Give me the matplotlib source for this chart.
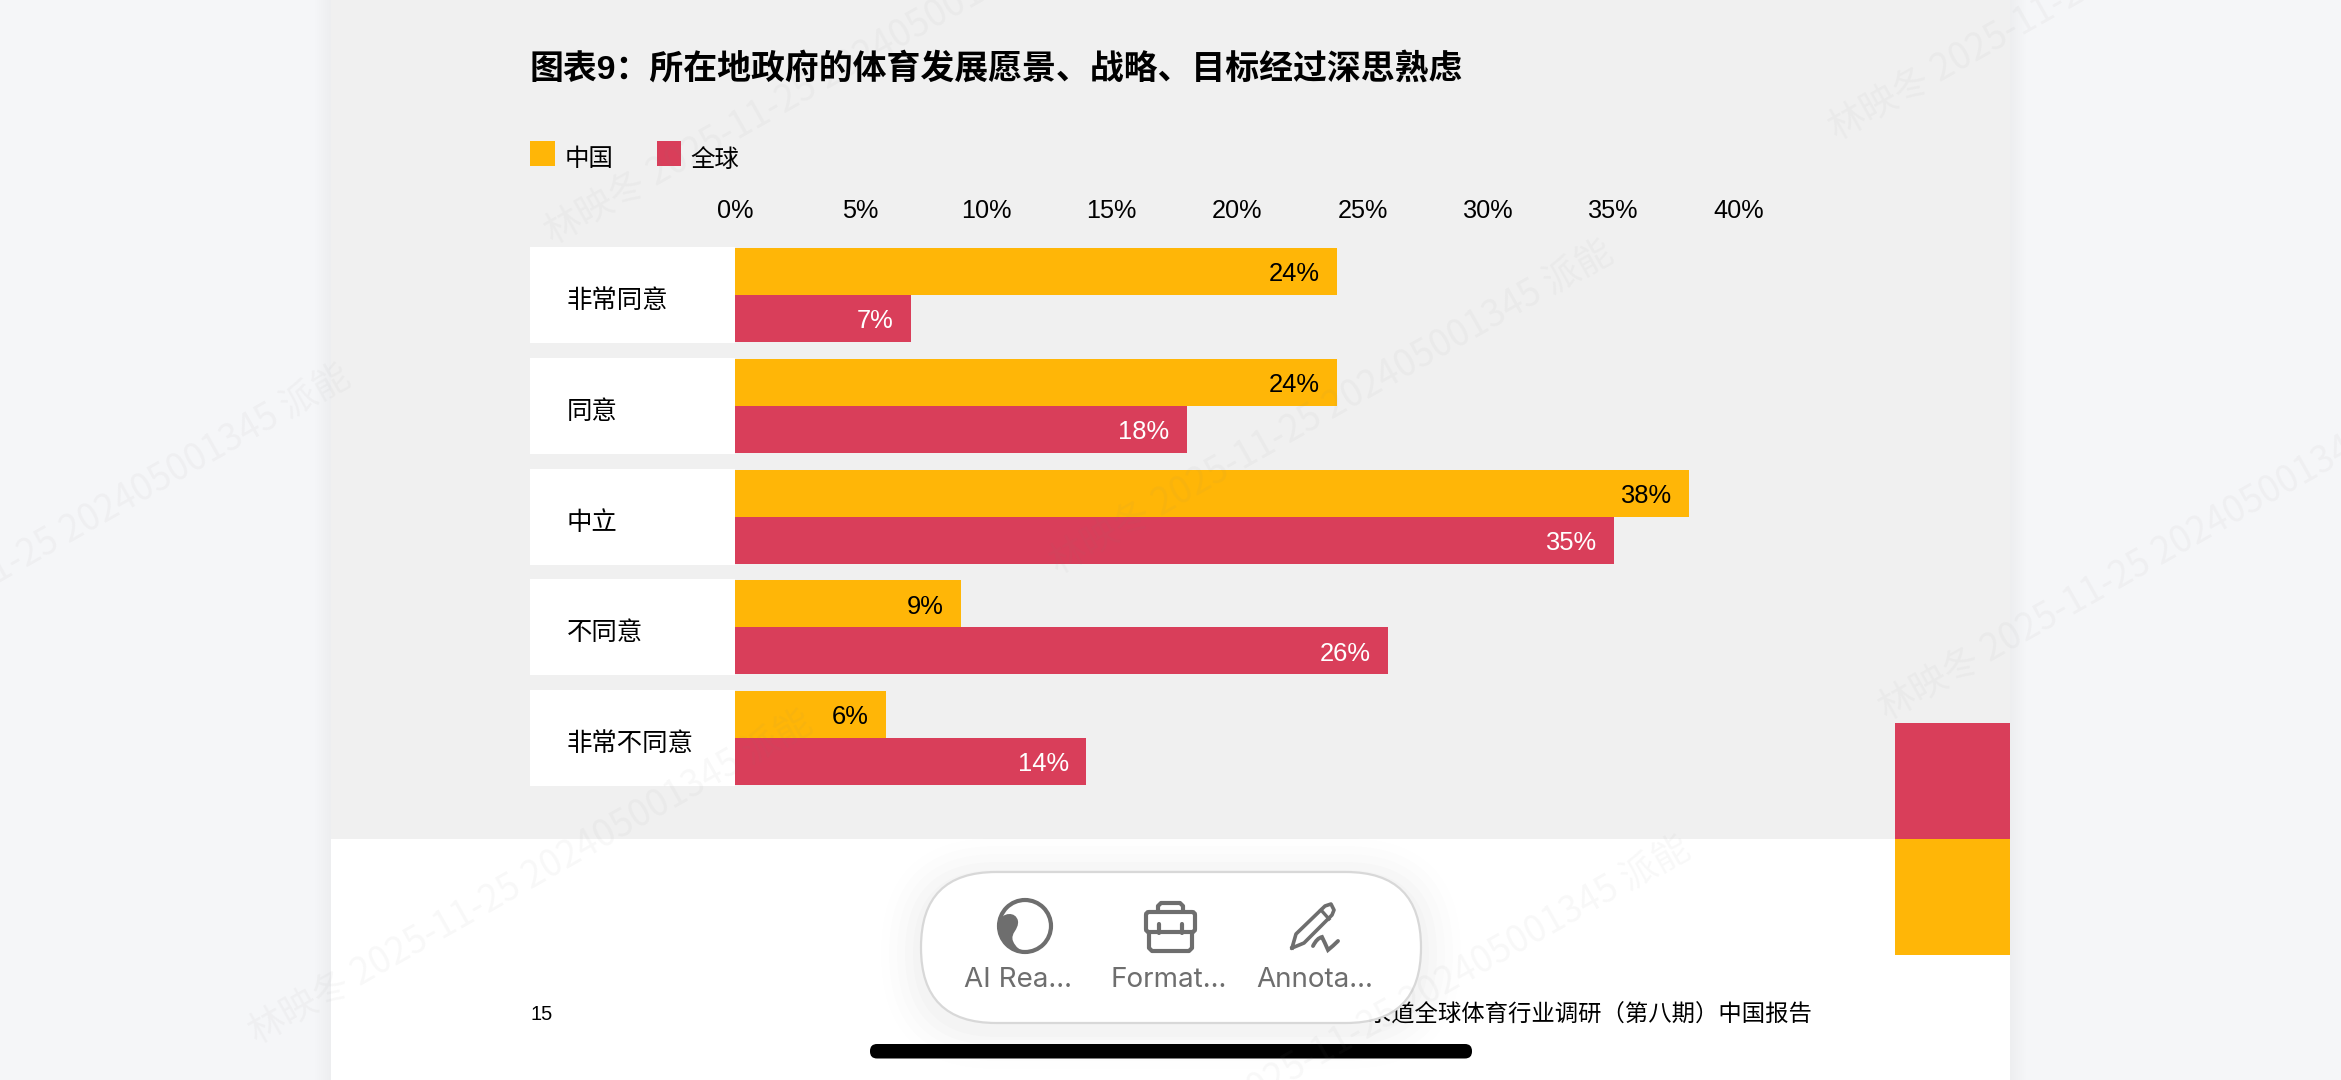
"""Survey chart: government sports vision, China vs global, on a report page."""
import matplotlib

matplotlib.use("Agg")
import matplotlib.pyplot as plt
from matplotlib.patches import Circle, FancyBboxPatch, PathPatch, Rectangle
from matplotlib.path import Path

plt.rcParams["font.family"] = ["Liberation Sans", "Noto Sans CJK SC", "DejaVu Sans"]

WIDTH, HEIGHT = 2341, 1080
DPI = 100

TITLE = "图表9：所在地政府的体育发展愿景、战略、目标经过深思熟虑"
CATEGORIES = ["非常同意", "同意", "中立", "不同意", "非常不同意"]
SERIES_NAMES = ["中国", "全球"]
CHINA = [24, 24, 38, 9, 6]
GLOBAL = [7, 18, 35, 26, 14]
X_TICKS = [0, 5, 10, 15, 20, 25, 30, 35, 40]
PAGE_NUMBER = "15"
FOOTER = "普华永道全球体育行业调研（第八期）中国报告"
TOOLBAR_LABELS = ["AI Rea...", "Format...", "Annota..."]
WATERMARK = "林映冬 2025-11-25 202405001345 派能"

ORANGE = "#FFB607"
RED = "#D93E5A"
PANEL = "#F0F0F0"
SIDE = "#F5F6F8"
ICON = "#6E6E6E"

fig = plt.figure(figsize=(WIDTH / DPI, HEIGHT / DPI), dpi=DPI, facecolor=SIDE)

# page furniture lives on a full-figure axes in pixel units, y pointing down
bg = fig.add_axes([0, 0, 1, 1], zorder=0)
bg.set_xlim(0, WIDTH)
bg.set_ylim(HEIGHT, 0)
bg.axis("off")


def rect(ax, x0, y0, x1, y1, color, **kw):
    ax.add_patch(Rectangle((x0, y0), x1 - x0, y1 - y0, facecolor=color, edgecolor="none", **kw))


# soft page edge shadow
for i in range(8):
    rect(bg, 331 - (i + 1) * 2, 0, 331, HEIGHT, "#000000", alpha=0.004)
    rect(bg, 2010, 0, 2010 + (i + 1) * 2, HEIGHT, "#000000", alpha=0.004)
rect(bg, 331, 0, 2010, HEIGHT, "white")
rect(bg, 331, 0, 2010, 839, PANEL)
rect(bg, 1895, 723, 2010, 839, RED)
rect(bg, 1895, 839, 2010, 955, ORANGE)

bg.text(530, 69, TITLE, fontsize=24.4, fontweight="bold", va="center", color="black")

rect(bg, 530, 141, 555, 166, ORANGE)
rect(bg, 657, 141, 681, 166, RED)
bg.text(565, 160, SERIES_NAMES[0], fontsize=17.6, va="center", color="black")
bg.text(690, 160, SERIES_NAMES[1], fontsize=17.6, va="center", color="black")

bg.text(531, 1015, PAGE_NUMBER, fontsize=14.5, va="center", color="black")
bg.text(1813, 1015, FOOTER, fontsize=16.8, va="center", ha="right", color="black")

# chart axes: 25.1 px per percent, 110.8 px per category
ax = fig.add_axes([530 / WIDTH, 1 - 800 / HEIGHT, (1739 - 530) / WIDTH, 560 / HEIGHT], zorder=1)
ax.patch.set_alpha(0)
label_width = 205 / 25.1
ax.set_xlim(-label_width, 40)
ax.set_ylim((800 - 295) / 110.8, (240 - 295) / 110.8)
for spine in ax.spines.values():
    spine.set_visible(False)
ax.set_yticks([])
ax.xaxis.tick_top()
ax.set_xticks(X_TICKS)
ax.set_xticklabels([f"{t}%" for t in X_TICKS], fontsize=18.2, color="black")
ax.tick_params(axis="x", length=0, pad=12)

ys = list(range(len(CATEGORIES)))
bar_h = 47 / 110.8
ax.barh(ys, [label_width] * len(ys), left=-label_width, height=96 / 110.8, color="white")
china_bars = ax.barh([y - bar_h / 2 for y in ys], CHINA, height=bar_h, color=ORANGE)
global_bars = ax.barh([y + bar_h / 2 for y in ys], GLOBAL, height=bar_h, color=RED)
china_labels = ax.bar_label(china_bars, labels=[f"{v}%" for v in CHINA], fontsize=18.4, color="black")
global_labels = ax.bar_label(global_bars, labels=[f"{v}%" for v in GLOBAL], fontsize=18.4, color="white")
# value labels sit inside the bar end, right aligned
for ann in china_labels + global_labels:
    ann.set_ha("right")
    ann.xyann = (-12.4, -2)
for y, cat in zip(ys, CATEGORIES):
    ax.text(-label_width + 37 / 25.1, y + 6 / 110.8, cat, fontsize=18.3, va="center", color="black")

# floating toolbar on top of the page
top = fig.add_axes([0, 0, 1, 1], zorder=2)
top.set_xlim(0, WIDTH)
top.set_ylim(HEIGHT, 0)
top.axis("off")
top.patch.set_alpha(0)

for grow, alpha in [(40, 0.005), (32, 0.006), (24, 0.008), (16, 0.01), (8, 0.012)]:
    top.add_patch(FancyBboxPatch((921 + 75 - grow, 878 + 75 - grow), 350 + 2 * grow, 1 + 2 * grow,
                                 boxstyle=f"round,pad=75,rounding_size={75 + grow}",
                                 facecolor="black", edgecolor="none", alpha=alpha))
top.add_patch(FancyBboxPatch((921 + 75, 872 + 75), 350, 1, boxstyle="round,pad=75,rounding_size=75",
                             facecolor="white", edgecolor="#D8D8D8", linewidth=1.6))

# AI reader icon: ring with a comma hugging its left side
top.add_patch(Circle((1025, 926), 26, facecolor="none", edgecolor=ICON, linewidth=3))
top.add_patch(PathPatch(Path(
    [(999, 922), (1002, 912), (1016, 911), (1018, 921), (1019, 930), (1010, 933), (1013, 941),
     (1016, 948), (1020, 950), (1026, 952), (1008, 953), (996, 940), (999, 922)],
    [Path.MOVETO] + [Path.CURVE4] * 12), facecolor=ICON, edgecolor="none"))

# briefcase icon
stroke = dict(color=ICON, lw=3, solid_capstyle="round", solid_joinstyle="round")
top.add_patch(FancyBboxPatch((1146, 912), 49, 20, boxstyle="round,pad=0,rounding_size=3",
                             facecolor="none", edgecolor=ICON, linewidth=3))
top.plot([1149, 1149, 1152, 1189, 1192, 1192], [932, 948, 951, 951, 948, 932], **stroke)
top.plot([1158, 1158, 1161, 1180, 1183, 1183], [912, 906, 903, 903, 906, 912], **stroke)
top.plot([1159, 1159], [924, 933], **stroke)
top.plot([1182, 1182], [924, 933], **stroke)

# pen icon with squiggle
top.plot([1292, 1296, 1325, 1331, 1334, 1332, 1304, 1292], [948, 934, 906, 904, 910, 915, 943, 948],
         color=ICON, lw=2.6, solid_joinstyle="round")
top.plot([1321, 1329], [910, 919], color=ICON, lw=2.4)
top.add_patch(PathPatch(Path(
    [(1313, 946), (1317, 938), (1322, 937), (1325, 943), (1328, 950), (1333, 946), (1338, 941)],
    [Path.MOVETO] + [Path.CURVE3] * 6),
    facecolor="none", edgecolor=ICON, linewidth=2.8, capstyle="round"))

for cx, label in zip([1018, 1169, 1315], TOOLBAR_LABELS):
    top.text(cx, 980, label, family=["Inter", "DejaVu Sans"], fontsize=20, color=ICON,
             ha="center", va="center")

# home indicator
top.add_patch(FancyBboxPatch((877, 1051), 588, 0.5, boxstyle="round,pad=7,rounding_size=7",
                             facecolor="black", edgecolor="none"))

# diagonal watermark, one line per start point
for sx, sy in [(252, 1036), (548, 236), (1053, 566), (1882, 712), (1832, 132), (-210, 690), (1130, 1162)]:
    top.text(sx, sy, WATERMARK, family=["Noto Sans CJK SC", "DejaVu Sans"], fontsize=26.4,
             rotation=29.5, rotation_mode="anchor", ha="left", va="center", color="#808080", alpha=0.055)

fig.savefig("out.png", dpi=DPI, facecolor=SIDE)
